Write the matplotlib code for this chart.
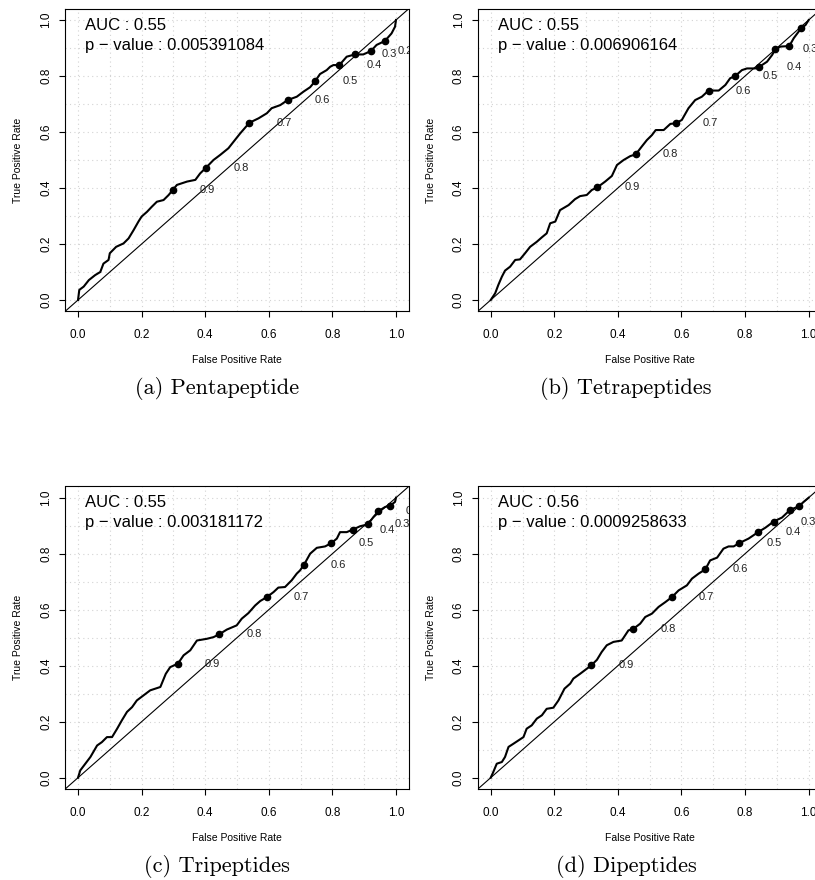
import numpy as np
import matplotlib.pyplot as plt
import matplotlib.transforms as mtransforms

# ---- data ------------------------------------------------------------------
cutoffs = [0.9, 0.8, 0.7, 0.6, 0.5, 0.4, 0.3, 0.2, 0.1]

# (a) Pentapeptide
fpr_a = [0.0, 0.004, 0.018, 0.034, 0.054, 0.07, 0.08, 0.096, 0.10, 0.12, 0.143, 0.159,
         0.175, 0.19, 0.20, 0.217, 0.232, 0.248, 0.269, 0.285, 0.298, 0.311, 0.343, 0.369,
         0.384, 0.403, 0.426, 0.447, 0.473, 0.489, 0.51, 0.539, 0.568, 0.594, 0.609, 0.636,
         0.659, 0.688, 0.709, 0.73, 0.746, 0.761, 0.782, 0.793, 0.803, 0.822, 0.845, 0.871,
         0.897, 0.921, 0.939, 0.965, 0.986, 0.997, 1.0]
tpr_a = [0.0, 0.036, 0.048, 0.071, 0.089, 0.10, 0.13, 0.143, 0.167, 0.19, 0.202, 0.22,
         0.25, 0.28, 0.298, 0.315, 0.333, 0.351, 0.357, 0.375, 0.393, 0.411, 0.423, 0.429,
         0.452, 0.473, 0.5, 0.518, 0.542, 0.565, 0.595, 0.633, 0.649, 0.667, 0.685, 0.696,
         0.714, 0.726, 0.744, 0.76, 0.782, 0.807, 0.821, 0.833, 0.839, 0.839, 0.869, 0.877,
         0.877, 0.889, 0.911, 0.925, 0.952, 0.976, 1.0]
cut_fpr_a = [0.298, 0.403, 0.539, 0.659, 0.746, 0.822, 0.871, 0.921, 0.965]
cut_tpr_a = [0.393, 0.473, 0.633, 0.714, 0.782, 0.839, 0.877, 0.889, 0.925]

# (b) Tetrapeptides
fpr_b = [0.0, 0.014, 0.024, 0.035, 0.045, 0.061, 0.077, 0.092, 0.108, 0.124, 0.145, 0.161,
         0.176, 0.187, 0.203, 0.218, 0.245, 0.265, 0.281, 0.302, 0.318, 0.335, 0.36, 0.381,
         0.397, 0.418, 0.439, 0.456, 0.475, 0.491, 0.507, 0.519, 0.544, 0.565, 0.582, 0.601,
         0.622, 0.643, 0.664, 0.685, 0.717, 0.738, 0.753, 0.769, 0.79, 0.806, 0.832, 0.845,
         0.869, 0.885, 0.895, 0.911, 0.939, 0.953, 0.976, 0.99, 1.0]
tpr_b = [0.0, 0.024, 0.054, 0.083, 0.105, 0.119, 0.143, 0.145, 0.167, 0.19, 0.208, 0.224,
         0.238, 0.274, 0.28, 0.321, 0.339, 0.36, 0.371, 0.375, 0.393, 0.402, 0.423, 0.443,
         0.482, 0.5, 0.514, 0.52, 0.548, 0.571, 0.589, 0.607, 0.607, 0.629, 0.631, 0.643,
         0.685, 0.714, 0.726, 0.748, 0.748, 0.768, 0.792, 0.8, 0.821, 0.827, 0.827, 0.833,
         0.851, 0.875, 0.895, 0.905, 0.907, 0.935, 0.97, 0.982, 1.0]
cut_fpr_b = [0.335, 0.456, 0.582, 0.685, 0.769, 0.845, 0.895, 0.939, 0.976]
cut_tpr_b = [0.402, 0.52, 0.631, 0.748, 0.8, 0.833, 0.895, 0.907, 0.97]

# (c) Tripeptides
fpr_c = [0.0, 0.007, 0.023, 0.039, 0.06, 0.075, 0.091, 0.107, 0.123, 0.138, 0.154, 0.17,
         0.185, 0.206, 0.227, 0.259, 0.276, 0.29, 0.314, 0.332, 0.353, 0.374, 0.405, 0.426,
         0.444, 0.468, 0.499, 0.515, 0.536, 0.557, 0.573, 0.594, 0.615, 0.63, 0.651, 0.672,
         0.688, 0.698, 0.711, 0.73, 0.751, 0.777, 0.797, 0.814, 0.824, 0.845, 0.864, 0.887,
         0.912, 0.929, 0.945, 0.966, 0.981, 0.997, 1.0]
tpr_c = [0.0, 0.026, 0.05, 0.074, 0.115, 0.127, 0.145, 0.145, 0.175, 0.205, 0.235, 0.252,
         0.276, 0.294, 0.312, 0.324, 0.371, 0.395, 0.407, 0.437, 0.455, 0.49, 0.496, 0.502,
         0.512, 0.529, 0.544, 0.568, 0.588, 0.615, 0.631, 0.645, 0.663, 0.679, 0.681, 0.705,
         0.729, 0.74, 0.761, 0.8, 0.821, 0.826, 0.838, 0.854, 0.877, 0.877, 0.886, 0.898,
         0.905, 0.931, 0.952, 0.967, 0.971, 0.985, 1.0]
cut_fpr_c = [0.314, 0.444, 0.594, 0.711, 0.797, 0.864, 0.912, 0.945, 0.981]
cut_tpr_c = [0.407, 0.512, 0.645, 0.761, 0.838, 0.886, 0.905, 0.952, 0.971]

# (d) Dipeptides
fpr_d = [0.0, 0.008, 0.019, 0.035, 0.045, 0.056, 0.071, 0.087, 0.103, 0.113, 0.129, 0.145,
         0.161, 0.176, 0.197, 0.213, 0.232, 0.25, 0.26, 0.281, 0.302, 0.316, 0.334, 0.349,
         0.365, 0.386, 0.412, 0.433, 0.449, 0.47, 0.486, 0.507, 0.528, 0.549, 0.57, 0.591,
         0.617, 0.633, 0.654, 0.675, 0.69, 0.712, 0.732, 0.748, 0.764, 0.782, 0.811, 0.841,
         0.864, 0.89, 0.916, 0.942, 0.969, 0.984, 1.0]
tpr_d = [0.0, 0.02, 0.05, 0.056, 0.074, 0.11, 0.121, 0.133, 0.145, 0.175, 0.187, 0.211,
         0.223, 0.246, 0.25, 0.276, 0.318, 0.336, 0.354, 0.371, 0.389, 0.401, 0.421, 0.449,
         0.473, 0.485, 0.49, 0.526, 0.532, 0.55, 0.574, 0.586, 0.61, 0.627, 0.645, 0.669,
         0.687, 0.711, 0.729, 0.744, 0.776, 0.786, 0.818, 0.826, 0.826, 0.838, 0.854, 0.877,
         0.893, 0.915, 0.929, 0.957, 0.969, 0.985, 1.0]
cut_fpr_d = [0.316, 0.449, 0.57, 0.675, 0.782, 0.841, 0.89, 0.942, 0.969]
cut_tpr_d = [0.401, 0.532, 0.645, 0.744, 0.838, 0.877, 0.915, 0.957, 0.969]

auc_values = ['0.55', '0.55', '0.55', '0.56']
p_values = ['0.005391084', '0.006906164', '0.003181172', '0.0009258633']
captions = ['(a) Pentapeptide', '(b) Tetrapeptides', '(c) Tripeptides', '(d) Dipeptides']

W, H = 815, 880
SANS = ['Liberation Sans', 'DejaVu Sans']


def px_axes(fig, left, top, width, height):
    # place an axes by pixel box (top-left origin)
    return fig.add_axes([left / W, 1 - (top + height) / H, width / W, height / H])


def draw_roc(fig, ax, fpr, tpr, cfpr, ctpr, auc, pval):
    ax.set_xlim(-0.04, 1.04)
    ax.set_ylim(-0.04, 1.04)

    # dotted R-style grid every 0.1
    for g in np.arange(0, 1.01, 0.1):
        ax.axvline(g, color='lightgray', lw=0.8, ls=(0, (1, 3)), zorder=0)
        ax.axhline(g, color='lightgray', lw=0.8, ls=(0, (1, 3)), zorder=0)

    ax.axline((0, 0), (1, 1), color='black', lw=0.8, zorder=1)
    ax.plot(fpr, tpr, color='black', lw=1.5, zorder=2)
    ax.plot(cfpr, ctpr, 'o', color='black', ms=4.5, zorder=3)

    off = mtransforms.offset_copy(ax.transData, fig=fig, x=27, y=0, units='dots')
    for x, y, c in zip(cfpr, ctpr, cutoffs):
        ax.text(x, y, f'{c:.1f}', transform=off, ha='left', va='center',
                fontsize=8, color='#222222', family=SANS, clip_on=True)

    ax.text(0.022, 0.982, f'AUC : {auc}', ha='left', va='center', fontsize=12, family=SANS)
    ax.text(0.022, 0.91, f'p \u2212 value : {pval}', ha='left', va='center',
            fontsize=12, family=SANS)

    ticks = [0.0, 0.2, 0.4, 0.6, 0.8, 1.0]
    ax.set_xticks(ticks)
    ax.set_yticks(ticks)
    ax.set_xticklabels([f'{t:.1f}' for t in ticks], family=SANS, fontsize=8.5)
    ax.set_yticklabels([f'{t:.1f}' for t in ticks], family=SANS, fontsize=8.5,
                       rotation=90, va='center')
    ax.tick_params(axis='x', length=4, width=0.8, pad=9)
    ax.tick_params(axis='y', length=4, width=0.8, pad=5.5)

    ax.set_xlabel('False Positive Rate', family=SANS, fontsize=7.5, va='center')
    ax.set_ylabel('True Positive Rate', family=SANS, fontsize=7.5, va='center')
    ax.xaxis.set_label_coords(0.5, -0.162)
    ax.yaxis.set_label_coords(-0.138, 0.5)

    for s in ax.spines.values():
        s.set_linewidth(0.8)
        s.set_color('black')


fig = plt.figure(figsize=(W / 100, H / 100), dpi=100)

panels = [
    (fpr_a, tpr_a, cut_fpr_a, cut_tpr_a),
    (fpr_b, tpr_b, cut_fpr_b, cut_tpr_b),
    (fpr_c, tpr_c, cut_fpr_c, cut_tpr_c),
    (fpr_d, tpr_d, cut_fpr_d, cut_tpr_d),
]
lefts = [65.3, 478.0]
tops = [8.8, 486.5]
cap_x = [217, 626]
cap_y = [388, 866]

for i, (fpr, tpr, cfpr, ctpr) in enumerate(panels):
    row, col = divmod(i, 2)
    ax = px_axes(fig, lefts[col], tops[row], 343.4, 302.4)
    draw_roc(fig, ax, fpr, tpr, cfpr, ctpr, auc_values[i], p_values[i])
    fig.text(cap_x[col] / W, 1 - cap_y[row] / H, captions[i], ha='center', va='center',
             fontsize=16, family='cmr10')

fig.savefig('out.png', dpi=100)
